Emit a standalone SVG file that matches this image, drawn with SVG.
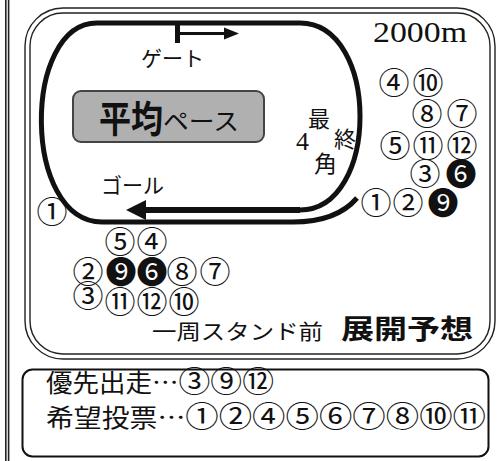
<svg xmlns="http://www.w3.org/2000/svg" width="503" height="461" viewBox="0 0 503 461">
<style>
.jp{font-family:'Noto Sans CJK JP','Noto Sans CJK SC',sans-serif;fill:#111}
.sf{font-family:'Liberation Serif',serif;fill:#111}
.c{font-family:'Noto Sans CJK JP','DejaVu Sans',sans-serif;font-size:31px;text-anchor:middle;fill:#111}
.frame{fill:none;stroke:#222;stroke-width:1.4}
.track{fill:none;stroke:#111;stroke-width:5;stroke-linecap:butt}
</style>
<rect width="503" height="461" fill="#fff"/>
<g id="border">
<line x1="5.8" y1="0" x2="5.8" y2="461" stroke="#222" stroke-width="1.6"/>
<line x1="8.6" y1="0" x2="8.6" y2="461" stroke="#222" stroke-width="1.6"/>
<rect class="frame" x="25" y="8" width="470" height="351" rx="38"/>
<rect class="frame" x="30" y="13" width="460" height="341" rx="33"/>
</g>
<g id="connectors">
<path class="track" d="M140 210 L300 210 C380 210 380 23 300 23 L97 23 C22 23 22 222 102 222 L293 222 C325 222 345 212 357 198"/>
<line x1="140" y1="210" x2="300" y2="210" stroke="#111" stroke-width="6"/>
<polygon points="126,210 146,200 146,220" fill="#111"/>
<rect x="175" y="25" width="5" height="18" fill="#111"/>
<line x1="180" y1="33.5" x2="226" y2="33.5" stroke="#111" stroke-width="3"/>
<polygon points="239,33.5 224,27.5 224,39.5" fill="#111"/>
</g>
<g id="labels">
<text class="jp" x="141" y="66" font-size="21">ゲート</text>
<g id="pace">
<rect x="73" y="91" width="191" height="51" rx="8" fill="#b0b0b0" stroke="#444" stroke-width="2"/>
<text class="jp" x="99" y="133" font-size="37" font-weight="bold" textLength="64" lengthAdjust="spacingAndGlyphs">平均</text>
<text class="jp" x="163" y="130" font-size="24" textLength="76" lengthAdjust="spacingAndGlyphs">ペース</text>
</g>
<text class="jp" x="101" y="193" font-size="21">ゴール</text>
<text class="jp" x="308" y="127" font-size="22">最</text>
<text class="sf" x="296" y="150" font-size="26">4</text>
<text class="jp" x="334" y="147" font-size="22">終</text>
<text class="jp" x="314" y="172" font-size="23">角</text>
<text class="sf" x="373" y="42" font-size="29" textLength="94" lengthAdjust="spacingAndGlyphs">2000m</text>
<text class="jp" x="152" y="339" font-size="21" textLength="171" lengthAdjust="spacingAndGlyphs">一周スタンド前</text>
<text class="jp" x="341" y="339" font-size="27" font-weight="bold" textLength="132" lengthAdjust="spacingAndGlyphs">展開予想</text>
</g>
<g id="corner-group">
<text class="c" x="394" y="94">④</text>
<text class="c" x="428" y="94">⑩</text>
<text class="c" x="427" y="125">⑧</text>
<text class="c" x="462" y="125">⑦</text>
<text class="c" x="395" y="157">⑤</text>
<text class="c" x="428" y="157">⑪</text>
<text class="c" x="462" y="157">⑫</text>
<text class="c" x="425" y="185">③</text>
<text class="c" x="461" y="185">❻</text>
<text class="c" x="376" y="214">①</text>
<text class="c" x="408" y="214">②</text>
<text class="c" x="443" y="214">❾</text>
</g>
<g id="stand-group">
<text class="c" x="52" y="223">①</text>
<text class="c" x="120" y="253">⑤</text>
<text class="c" x="152" y="253">④</text>
<text class="c" x="88" y="283">②</text>
<text class="c" x="121" y="283">❾</text>
<text class="c" x="152" y="283">❻</text>
<text class="c" x="182" y="283">⑧</text>
<text class="c" x="215" y="283">⑦</text>
<text class="c" x="88" y="307">③</text>
<text class="c" x="120" y="313">⑪</text>
<text class="c" x="152" y="313">⑫</text>
<text class="c" x="184" y="313">⑩</text>
</g>
<g id="summary">
<rect x="22.5" y="369.5" width="466" height="87" rx="10" fill="none" stroke="#111" stroke-width="2"/>
<text class="jp" x="46" y="392" font-size="25" textLength="228" lengthAdjust="spacingAndGlyphs">優先出走…<tspan font-size="30">③⑨⑫</tspan></text>
<text class="jp" x="46" y="427" font-size="25" textLength="440" lengthAdjust="spacingAndGlyphs">希望投票…<tspan font-size="30">①②④⑤⑥⑦⑧⑩⑪</tspan></text>
</g>
</svg>
